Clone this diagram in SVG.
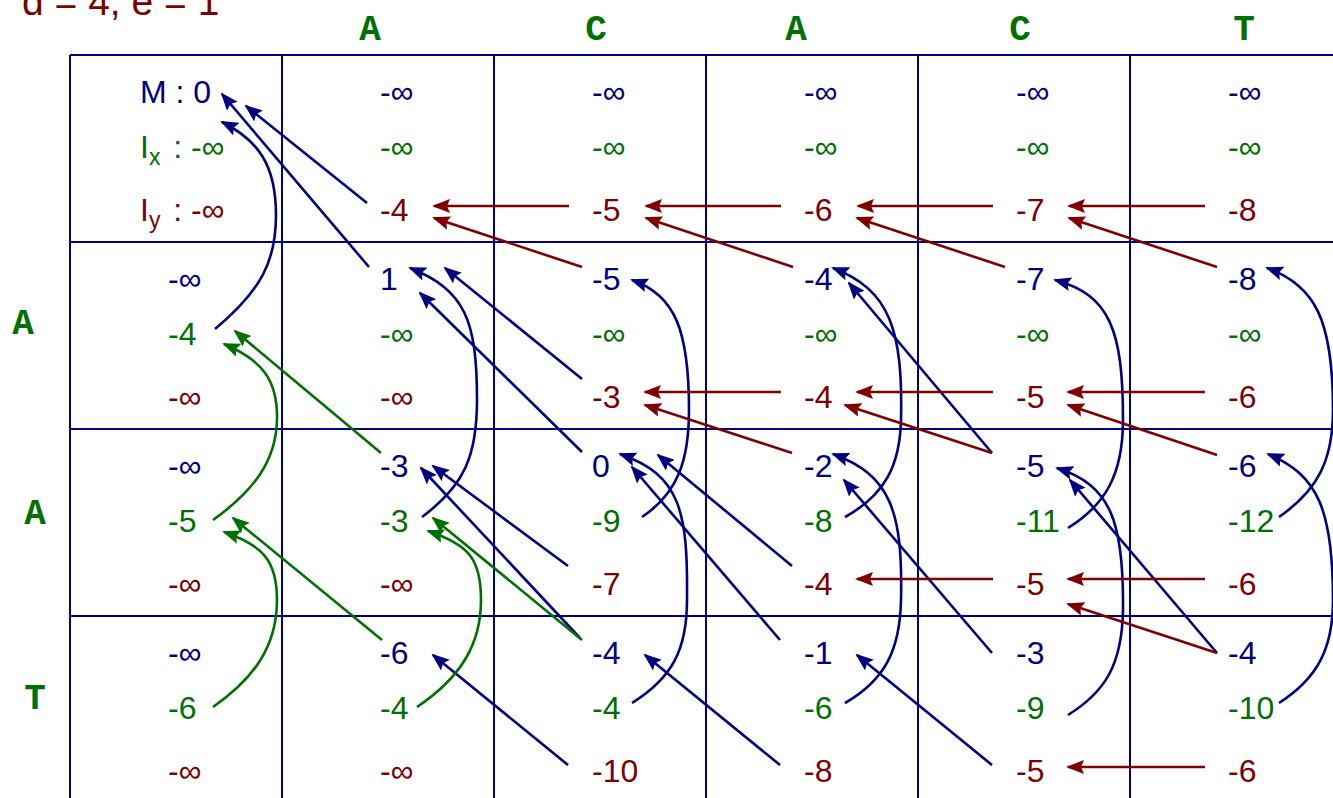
<svg xmlns="http://www.w3.org/2000/svg" width="1333" height="798" viewBox="0 0 1333 798">
<style>
text{font-family:"Liberation Sans",Arial,sans-serif;font-size:32px}
.m{fill:#000080}.x{fill:#007000}.y{fill:#800000}
.hd{font-family:"Liberation Mono","Courier New",monospace;font-weight:bold;font-size:36px;fill:#007000;text-anchor:middle}
.grid line{stroke:#000080;stroke-width:2}
.cn path{fill:none;stroke-width:2.6}
.cm{stroke:#000080;marker-end:url(#am)}
.cx{stroke:#007000;marker-end:url(#ax)}
.cy{stroke:#800000;marker-end:url(#ay)}
</style>
<defs>
<marker id="am" viewBox="0 0 18 14" refX="16" refY="7" markerWidth="18" markerHeight="14" markerUnits="userSpaceOnUse" orient="auto"><path d="M0,0 L18,7 L0,14 L3,7 z" fill="#000080"/></marker>
<marker id="ax" viewBox="0 0 18 14" refX="16" refY="7" markerWidth="18" markerHeight="14" markerUnits="userSpaceOnUse" orient="auto"><path d="M0,0 L18,7 L0,14 L3,7 z" fill="#007000"/></marker>
<marker id="ay" viewBox="0 0 18 14" refX="16" refY="7" markerWidth="18" markerHeight="14" markerUnits="userSpaceOnUse" orient="auto"><path d="M0,0 L18,7 L0,14 L3,7 z" fill="#800000"/></marker>
</defs>
<rect width="1333" height="798" fill="#fff"/>
<text x="22" y="15" class="y" style="font-size:39px">d = 4, e = 1</text>
<g id="colhead">
<text class="hd" x="370" y="40">A</text>
<text class="hd" x="596" y="40">C</text>
<text class="hd" x="796" y="40">A</text>
<text class="hd" x="1020" y="40">C</text>
<text class="hd" x="1244" y="40">T</text>
</g>
<g id="rowhead">
<text class="hd" x="23" y="334">A</text>
<text class="hd" x="35" y="524">A</text>
<text class="hd" x="35" y="709">T</text>
</g>
<g class="grid">
<line x1="70" y1="55" x2="1333" y2="55"/>
<line x1="70" y1="242" x2="1333" y2="242"/>
<line x1="70" y1="429" x2="1333" y2="429"/>
<line x1="70" y1="616" x2="1333" y2="616"/>
<line x1="70" y1="55" x2="70" y2="798"/>
<line x1="282" y1="55" x2="282" y2="798"/>
<line x1="494" y1="55" x2="494" y2="798"/>
<line x1="706" y1="55" x2="706" y2="798"/>
<line x1="918" y1="55" x2="918" y2="798"/>
<line x1="1130" y1="55" x2="1130" y2="798"/>
</g>
<g id="c00"><text class="m" x="140" y="103">M : 0</text><text class="x" x="140" y="158">I<tspan dy="7" style="font-size:23px">x</tspan><tspan dy="-7" dx="4"> : -∞</tspan></text><text class="y" x="140" y="221">I<tspan dy="7" style="font-size:23px">y</tspan><tspan dy="-7" dx="4"> : -∞</tspan></text></g>
<g id="c01"><text class="m" x="380" y="103">-∞</text><text class="x" x="380" y="158">-∞</text><text class="y" x="380" y="221">-4</text></g>
<g id="c02"><text class="m" x="592" y="103">-∞</text><text class="x" x="592" y="158">-∞</text><text class="y" x="592" y="221">-5</text></g>
<g id="c03"><text class="m" x="804" y="103">-∞</text><text class="x" x="804" y="158">-∞</text><text class="y" x="804" y="221">-6</text></g>
<g id="c04"><text class="m" x="1016" y="103">-∞</text><text class="x" x="1016" y="158">-∞</text><text class="y" x="1016" y="221">-7</text></g>
<g id="c05"><text class="m" x="1228" y="103">-∞</text><text class="x" x="1228" y="158">-∞</text><text class="y" x="1228" y="221">-8</text></g>
<g id="c10"><text class="m" x="168" y="290">-∞</text><text class="x" x="168" y="345">-4</text><text class="y" x="168" y="408">-∞</text></g>
<g id="c11"><text class="m" x="380" y="290">1</text><text class="x" x="380" y="345">-∞</text><text class="y" x="380" y="408">-∞</text></g>
<g id="c12"><text class="m" x="592" y="290">-5</text><text class="x" x="592" y="345">-∞</text><text class="y" x="592" y="408">-3</text></g>
<g id="c13"><text class="m" x="804" y="290">-4</text><text class="x" x="804" y="345">-∞</text><text class="y" x="804" y="408">-4</text></g>
<g id="c14"><text class="m" x="1016" y="290">-7</text><text class="x" x="1016" y="345">-∞</text><text class="y" x="1016" y="408">-5</text></g>
<g id="c15"><text class="m" x="1228" y="290">-8</text><text class="x" x="1228" y="345">-∞</text><text class="y" x="1228" y="408">-6</text></g>
<g id="c20"><text class="m" x="168" y="477">-∞</text><text class="x" x="168" y="532">-5</text><text class="y" x="168" y="595">-∞</text></g>
<g id="c21"><text class="m" x="380" y="477">-3</text><text class="x" x="380" y="532">-3</text><text class="y" x="380" y="595">-∞</text></g>
<g id="c22"><text class="m" x="592" y="477">0</text><text class="x" x="592" y="532">-9</text><text class="y" x="592" y="595">-7</text></g>
<g id="c23"><text class="m" x="804" y="477">-2</text><text class="x" x="804" y="532">-8</text><text class="y" x="804" y="595">-4</text></g>
<g id="c24"><text class="m" x="1016" y="477">-5</text><text class="x" x="1016" y="532">-11</text><text class="y" x="1016" y="595">-5</text></g>
<g id="c25"><text class="m" x="1228" y="477">-6</text><text class="x" x="1228" y="532">-12</text><text class="y" x="1228" y="595">-6</text></g>
<g id="c30"><text class="m" x="168" y="664">-∞</text><text class="x" x="168" y="719">-6</text><text class="y" x="168" y="782">-∞</text></g>
<g id="c31"><text class="m" x="380" y="664">-6</text><text class="x" x="380" y="719">-4</text><text class="y" x="380" y="782">-∞</text></g>
<g id="c32"><text class="m" x="592" y="664">-4</text><text class="x" x="592" y="719">-4</text><text class="y" x="592" y="782">-10</text></g>
<g id="c33"><text class="m" x="804" y="664">-1</text><text class="x" x="804" y="719">-6</text><text class="y" x="804" y="782">-8</text></g>
<g id="c34"><text class="m" x="1016" y="664">-3</text><text class="x" x="1016" y="719">-9</text><text class="y" x="1016" y="782">-5</text></g>
<g id="c35"><text class="m" x="1228" y="664">-4</text><text class="x" x="1228" y="719">-10</text><text class="y" x="1228" y="782">-6</text></g>
<g id="connectors" class="cn">
<path class="cm" d="M367,203 L246,106"/>
<path class="cm" d="M369,267 L222,94"/>
<path class="cm" d="M582,379 L445,268"/>
<path class="cm" d="M582,452 L420,293"/>
<path class="cm" d="M992,453 L849,283"/>
<path class="cm" d="M568,566 L433,466"/>
<path class="cm" d="M580,638 L421,468"/>
<path class="cm" d="M780,640 L632,467"/>
<path class="cm" d="M792,566 L658,455"/>
<path class="cm" d="M992,653 L844,480"/>
<path class="cm" d="M1217,653 L1070,480"/>
<path class="cm" d="M568,765 L433,655"/>
<path class="cm" d="M780,765 L645,655"/>
<path class="cm" d="M992,765 L857,655"/>
<path class="cm" d="M215,329 C262,290 276,260 276,215 C276,165 258,140 222,122"/>
<path class="cm" d="M422,517 C465,485 477,455 477,400 C477,320 465,290 410,268"/>
<path class="cm" d="M642,517 C678,493 689,460 689,410 C689,330 675,295 632,280"/>
<path class="cm" d="M845,517 C885,495 900,465 901,420 C903,330 890,290 833,268"/>
<path class="cm" d="M1068,528 C1105,505 1123,475 1123,420 C1123,330 1110,295 1055,280"/>
<path class="cm" d="M1279,517 C1318,490 1333,460 1333,410 C1333,320 1315,285 1267,268"/>
<path class="cm" d="M632,703 C672,678 687,650 687,600 C688,510 680,475 620,454"/>
<path class="cm" d="M845,703 C885,680 900,650 901,600 C903,510 890,475 833,454"/>
<path class="cm" d="M1068,715 C1105,692 1122,665 1123,610 C1124,520 1110,485 1057,468"/>
<path class="cm" d="M1279,703 C1318,678 1333,648 1333,600 C1333,510 1318,475 1268,454"/>
<path class="cx" d="M213,520 C255,490 276,460 277,420 C278,380 262,360 224,344"/>
<path class="cx" d="M213,707 C255,678 277,645 277,600 C277,560 262,545 224,532"/>
<path class="cx" d="M417,707 C460,678 481,645 481,600 C481,560 470,545 428,531"/>
<path class="cx" d="M381,453 L235,331"/>
<path class="cx" d="M382,640 L233,518"/>
<path class="cx" d="M582,640 L433,518"/>
<path class="cy" d="M569,206 L434,206"/>
<path class="cy" d="M781,206 L646,206"/>
<path class="cy" d="M993,206 L858,206"/>
<path class="cy" d="M1205,206 L1069,206"/>
<path class="cy" d="M582,267 L434,218"/>
<path class="cy" d="M793,267 L646,218"/>
<path class="cy" d="M1005,267 L857,218"/>
<path class="cy" d="M1217,267 L1069,218"/>
<path class="cy" d="M781,392 L645,392"/>
<path class="cy" d="M993,392 L857,392"/>
<path class="cy" d="M1205,392 L1068,392"/>
<path class="cy" d="M792,453 L645,405"/>
<path class="cy" d="M992,453 L845,405"/>
<path class="cy" d="M1217,455 L1068,405"/>
<path class="cy" d="M993,579 L857,579"/>
<path class="cy" d="M1205,579 L1068,579"/>
<path class="cy" d="M1217,653 L1068,604"/>
<path class="cy" d="M1205,767 L1068,767"/>
</g>
</svg>
